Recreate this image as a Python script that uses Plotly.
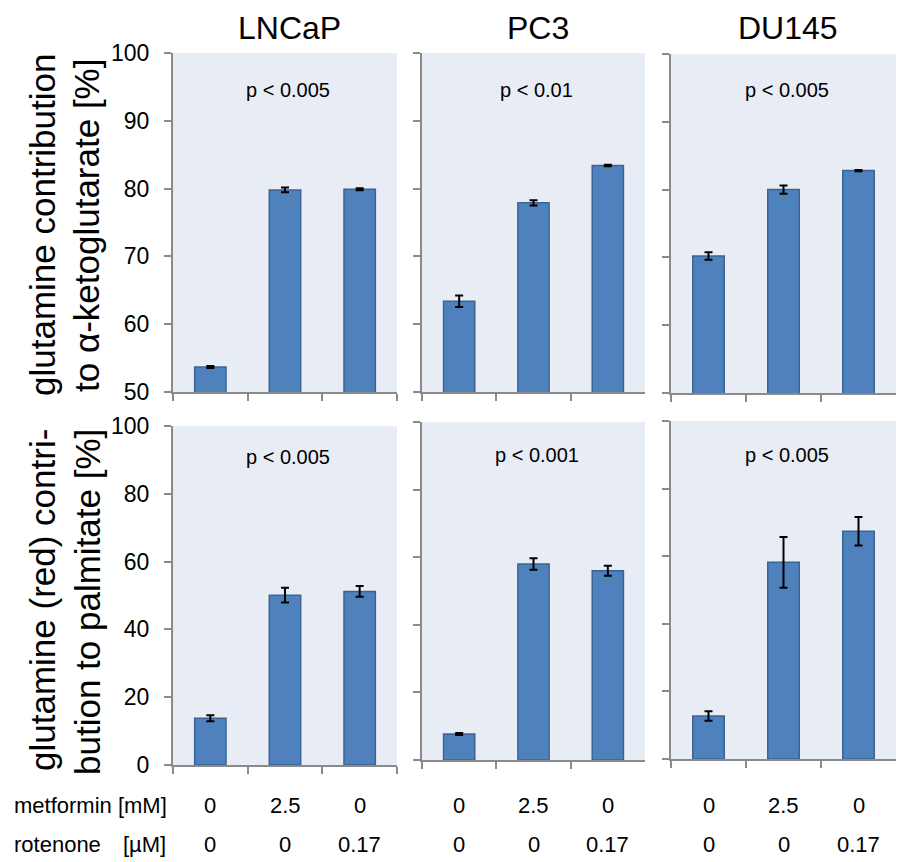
import plotly.graph_objects as go

W, H = 907, 862
OFF = 0  # body margin removed via post_script

cell_lines = ["LNCaP", "PC3", "DU145"]
conditions = ["control", "metformin", "rotenone"]
metformin_mM = ["0", "2.5", "0"]
rotenone_uM = ["0", "0", "0.17"]

akg_lncap = [53.7, 79.8, 79.9]
akg_lncap_err = [0.15, 0.35, 0.15]
akg_pc3 = [63.4, 77.9, 83.4]
akg_pc3_err = [0.85, 0.4, 0.1]
akg_du145 = [70.2, 80.0, 82.8]
akg_du145_err = [0.55, 0.6, 0.1]

palm_lncap = [13.8, 50.1, 51.2]
palm_lncap_err = [0.9, 2.2, 1.6]
palm_pc3 = [7.7, 58.0, 56.0]
palm_pc3_err = [0.3, 1.7, 1.5]
palm_du145 = [12.7, 58.2, 67.4]
palm_du145_err = [1.4, 7.5, 4.2]

p_top = ["p < 0.005", "p < 0.01", "p < 0.005"]
p_bottom = ["p < 0.005", "p < 0.001", "p < 0.005"]

y_ticks_top = [50, 60, 70, 80, 90, 100]
y_ticks_bottom = [0, 20, 40, 60, 80, 100]

FONT = "Liberation Sans, Arial, sans-serif"
BAR = "#4F81BD"
BAR_LINE = "#3B6494"
AXIS = "#8A8A8A"
BG = "#E8ECF4"

# page-pixel layout of panels (left, right, top, bottom)
cols_px = [(173, 397), (422, 645), (671, 896)]
top_px = [(53, 392), (53, 392), (54, 393)]
bot_px = [(426, 765), (422, 760), (421, 759)]


def px_x(p):
    return (p - OFF) / W


def px_y(p):
    return 1 - (p - OFF) / H


def xd(a, b):
    return [px_x(a), px_x(b)]


def yd(t, b):
    return [px_y(b), px_y(t)]


fig = go.Figure()

top_vals = [(akg_lncap, akg_lncap_err), (akg_pc3, akg_pc3_err), (akg_du145, akg_du145_err)]
bot_vals = [(palm_lncap, palm_lncap_err), (palm_pc3, palm_pc3_err), (palm_du145, palm_du145_err)]

layout = dict(
    width=W, height=H,
    margin=dict(l=0, r=0, t=0, b=0, autoexpand=False),
    paper_bgcolor="white",
    plot_bgcolor=BG,
    showlegend=False,
    font=dict(family=FONT, color="black"),
)

annotations = []

for row in range(2):
    for c in range(3):
        idx = row * 3 + c + 1
        sfx = "" if idx == 1 else str(idx)
        vals, errs = (top_vals if row == 0 else bot_vals)[c]
        fig.add_trace(go.Bar(
            x=conditions, y=vals,
            xaxis="x" + sfx, yaxis="y" + sfx,
            width=0.42,
            marker=dict(color=BAR, line=dict(color=BAR_LINE, width=1.5)),
            error_y=dict(type="data", array=errs, visible=True,
                         color="black", thickness=2, width=4),
        ))
        xa, xb = cols_px[c]
        ya, yb = (top_px if row == 0 else bot_px)[c]
        layout["xaxis" + sfx] = dict(
            domain=xd(xa, xb), anchor="y" + sfx,
            type="category", range=[-0.5, 2.5],
            tickson="boundaries", ticks="outside", ticklen=7,
            tickcolor=AXIS, tickwidth=2,
            showline=True, linecolor=AXIS, linewidth=2,
            showticklabels=False, showgrid=False, zeroline=False,
            automargin=False, fixedrange=True,
        )
        if row == 0:
            yr = [50, 100]
            tv = y_ticks_top
        else:
            yr = [0, 100]
            tv = y_ticks_bottom
        layout["yaxis" + sfx] = dict(
            domain=yd(ya, yb), anchor="x" + sfx,
            range=yr, tickvals=tv, ticks="outside", ticklen=7,
            tickcolor=AXIS, tickwidth=2,
            showline=True, linecolor=AXIS, linewidth=2,
            showticklabels=(c == 0), showgrid=False, zeroline=False,
            tickfont=dict(size=23, family=FONT, color="black"),
            ticklabelstandoff=10,
            automargin=False, fixedrange=True,
        )
        ptxt = (p_top if row == 0 else p_bottom)[c]
        py = 90 if row == 0 else (457 if c == 0 else 455)
        annotations.append(dict(
            text=ptxt, xref="paper", yref="paper",
            x=px_x((xa + xb) / 2 + 3), y=px_y(py),
            xanchor="center", yanchor="middle", showarrow=False,
            font=dict(size=20, family=FONT, color="black"),
        ))
        if row == 1:
            for i in range(3):
                annotations.append(dict(
                    text=metformin_mM[i], xref="x" + sfx, yref="paper",
                    x=conditions[i], y=px_y(805),
                    xanchor="center", yanchor="middle", showarrow=False,
                    font=dict(size=22, family=FONT, color="black"),
                ))
                annotations.append(dict(
                    text=rotenone_uM[i], xref="x" + sfx, yref="paper",
                    x=conditions[i], y=px_y(844),
                    xanchor="center", yanchor="middle", showarrow=False,
                    font=dict(size=22, family=FONT, color="black"),
                ))

# column titles
for c, name in enumerate(cell_lines):
    xa, xb = cols_px[c]
    annotations.append(dict(
        text=name, xref="paper", yref="paper",
        x=px_x((xa + xb) / 2 + 4), y=px_y(28),
        xanchor="center", yanchor="middle", showarrow=False,
        font=dict(size=32, family=FONT, color="black"),
    ))

# y-axis titles (two lines each)
ytitles = [
    ("glutamine contribution", 42, 225),
    ("to \u03b1-ketoglutarate [%]", 87, 226),
    ("glutamine (red) contri-", 42, 600),
    ("bution to palmitate [%]", 87, 602),
]
for txt, px, py in ytitles:
    annotations.append(dict(
        text=txt, xref="paper", yref="paper",
        x=px_x(px), y=px_y(py), textangle=-90,
        xanchor="center", yanchor="middle", showarrow=False,
        font=dict(size=35, family=FONT, color="black"),
    ))

# bottom row labels
annotations.append(dict(
    text="metformin [mM]", xref="paper", yref="paper",
    x=px_x(12), y=px_y(805), xanchor="left", yanchor="middle", showarrow=False,
    font=dict(size=22, family=FONT, color="black"),
))
annotations.append(dict(
    text="rotenone", xref="paper", yref="paper",
    x=px_x(12), y=px_y(844), xanchor="left", yanchor="middle", showarrow=False,
    font=dict(size=22, family=FONT, color="black"),
))
annotations.append(dict(
    text="[\u00b5M]", xref="paper", yref="paper",
    x=px_x(168), y=px_y(844), xanchor="right", yanchor="middle", showarrow=False,
    font=dict(size=22, family=FONT, color="black"),
))

layout["annotations"] = annotations
fig.update_layout(**layout)
fig.write_html(
    "out.html",
    config={"displayModeBar": False, "staticPlot": True},
    post_script="document.body.style.margin='0';document.body.style.overflow='hidden';",
)
